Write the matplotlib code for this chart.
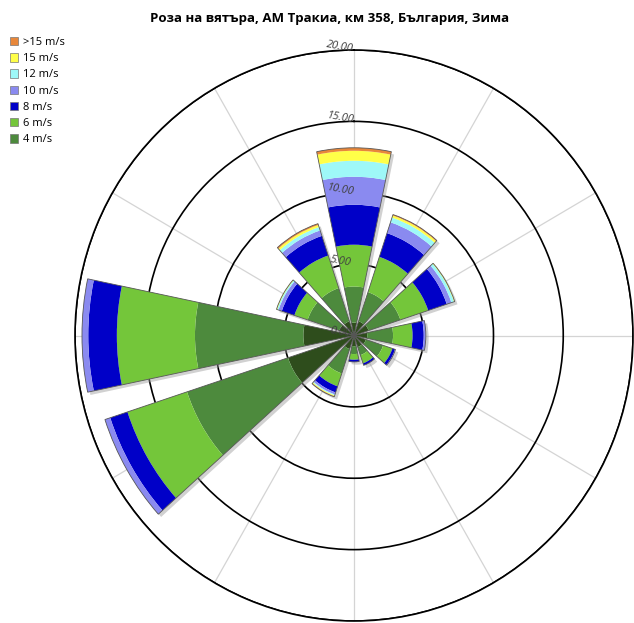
import numpy as np
import matplotlib
matplotlib.use("Agg")
import matplotlib.pyplot as plt
from matplotlib.patches import Patch
import matplotlib.patheffects as pe

plt.rcParams['font.family'] = ['Open Sans', 'DejaVu Sans']

# wind directions (deg, clockwise from north)
directions = [0, 30, 60, 90, 120, 150, 180, 210, 240, 270, 300, 330]

# frequency per speed class (%), innermost first
calm_2 = [0.90, 1.05, 1.10, 0.95, 0.90, 0.85, 0.75, 1.00, 4.98, 3.63, 1.10, 1.05]
spd_4 = [2.53, 2.15, 2.40, 1.85, 1.30, 0.60, 0.55, 1.80, 7.62, 7.77, 2.40, 2.45]
spd_6 = [2.93, 2.60, 2.10, 1.40, 0.70, 0.60, 0.40, 0.95, 4.50, 5.60, 1.00, 2.40]
spd_8 = [2.80, 1.75, 1.40, 0.80, 0.20, 0.15, 0.15, 0.45, 1.30, 2.05, 0.95, 1.45]
spd_10 = [1.96, 0.80, 0.35, 0.15, 0.03, 0.00, 0.00, 0.15, 0.40, 0.45, 0.25, 0.40]
spd_12 = [1.12, 0.35, 0.20, 0.00, 0.00, 0.00, 0.00, 0.07, 0.00, 0.00, 0.10, 0.25]
spd_15 = [0.70, 0.15, 0.05, 0.00, 0.00, 0.00, 0.00, 0.06, 0.00, 0.00, 0.05, 0.15]
spd_gt15 = [0.21, 0.07, 0.00, 0.00, 0.00, 0.00, 0.00, 0.04, 0.00, 0.00, 0.00, 0.10]

layers = [calm_2, spd_4, spd_6, spd_8, spd_10, spd_12, spd_15, spd_gt15]
labels = [None, "4 m/s", "6 m/s", "8 m/s", "10 m/s", "12 m/s", "15 m/s", ">15 m/s"]
colors = ["#2e4d1c", "#4d8a3d", "#74c63a", "#0000c8", "#8a8af0",
          "#9ef8f8", "#ffff48", "#e8873a"]

ring_ticks = [0, 5, 10, 15, 20]
title = "Роза на вятъра, АМ Тракиа, км 358, България, Зима"

fig = plt.figure(figsize=(6.34, 6.23), dpi=100)
ax = fig.add_axes([75 / 634, 2 / 623, 558 / 634, 571 / 623], projection="polar")
ax.set_aspect("auto")
ax.set_theta_zero_location("N")
ax.set_theta_direction(-1)
ax.set_ylim(0, 20)

theta = np.radians(directions)
width = np.radians(23.5)

# grid: black rings, light spokes
ax.set_yticks(ring_ticks[1:])
ax.set_yticklabels([])
ax.set_xticks(np.radians(directions))
ax.set_xticklabels([])
ax.yaxis.grid(True, color="black", lw=1.2)
ax.xaxis.grid(True, color="#d4d4d4", lw=0.9)
ax.spines["polar"].set_color("black")
ax.spines["polar"].set_linewidth(1.2)
ax.set_axisbelow(True)

totals = np.sum(layers, axis=0)
# shadow under each sector
ax.bar(theta, totals, width=width, bottom=0, color="white", edgecolor="none", zorder=2,
       path_effects=[pe.SimplePatchShadow(offset=(2, -2), shadow_rgbFace="#999999", alpha=0.45), pe.Normal()])

bottom = np.zeros(len(directions))
handles = []
for vals, lab, col in zip(layers, labels, colors):
    ax.bar(theta, vals, width=width, bottom=bottom, color=col, edgecolor="none", zorder=3)
    bottom += np.array(vals)
    if lab:
        handles.append(Patch(facecolor=col, edgecolor="#777777", lw=0.5, label=lab))

# sector outlines
ax.bar(theta, totals, width=width, bottom=0, color="none", edgecolor="#555555", lw=0.6, zorder=4)

for r in ring_ticks:
    ax.annotate(f"{r:.2f}", xy=(0, r), xytext=(-14, 3), textcoords="offset pixels",
                ha="center", va="center", rotation=-10, fontsize=8, style="italic",
                color="#404040", zorder=6)

handles = handles[::-1]
fig.legend(handles=handles, loc="upper left", bbox_to_anchor=(0.008, 0.948), frameon=False,
           fontsize=8, handlelength=0.8, handleheight=0.8, handletextpad=0.4,
           labelspacing=0.46, borderaxespad=0)

fig.text(0.52, 0.97, title, ha="center", va="center", fontsize=9.5, fontweight="bold")

fig.savefig("out.png", dpi=100)
